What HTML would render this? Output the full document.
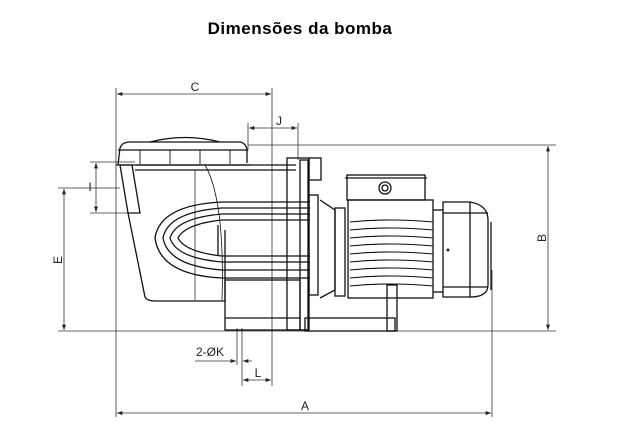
<!DOCTYPE html>
<html><head><meta charset="utf-8"><style>
html,body{margin:0;padding:0;background:#fff;width:635px;height:447px;overflow:hidden}
svg{display:block}
text{font-family:"Liberation Sans",sans-serif;fill:#222}
</style></head><body>
<svg width="635" height="447" viewBox="0 0 635 447">
<defs>
<marker id="a" viewBox="0 0 8 6" refX="8" refY="3" markerWidth="7" markerHeight="5" orient="auto-start-reverse"><path d="M0,0 L8,3 L0,6 z" fill="#222"/></marker>
</defs>
<text x="300" y="34" text-anchor="middle" font-size="17" font-weight="bold" style="fill:#000" letter-spacing="0.5">Dimensões da bomba</text>
<g stroke="#333" stroke-width="0.8" fill="none">
<line x1="116" y1="88" x2="116" y2="417"/>
<line x1="272" y1="88" x2="272" y2="386"/>
<line x1="248" y1="123" x2="248" y2="150"/>
<line x1="298" y1="123" x2="298" y2="160"/>
<line x1="248" y1="145" x2="556" y2="145"/>
<line x1="58" y1="331" x2="556" y2="331"/>
<line x1="58" y1="188" x2="120" y2="188"/>
<line x1="90" y1="162" x2="135" y2="162"/>
<line x1="90" y1="213" x2="140" y2="213"/>
<line x1="492" y1="270" x2="492" y2="417"/>
<line x1="237" y1="328" x2="237" y2="365"/>
<line x1="242" y1="328" x2="242" y2="386"/>
<line x1="117" y1="94" x2="271" y2="94" marker-start="url(#a)" marker-end="url(#a)"/>
<line x1="249" y1="128" x2="297" y2="128" marker-start="url(#a)" marker-end="url(#a)"/>
<line x1="548" y1="146" x2="548" y2="330" marker-start="url(#a)" marker-end="url(#a)"/>
<line x1="64" y1="189" x2="64" y2="330" marker-start="url(#a)" marker-end="url(#a)"/>
<line x1="96" y1="163" x2="96" y2="212" marker-start="url(#a)" marker-end="url(#a)"/>
<line x1="117" y1="413" x2="491" y2="413" marker-start="url(#a)" marker-end="url(#a)"/>
<line x1="243" y1="380" x2="271" y2="380" marker-start="url(#a)" marker-end="url(#a)"/>
<line x1="195" y1="361" x2="236" y2="361" marker-end="url(#a)"/>
<line x1="252" y1="361" x2="243" y2="361" marker-end="url(#a)"/>
</g>
<text x="195" y="91" font-size="12" text-anchor="middle">C</text>
<text x="279" y="125" font-size="12" text-anchor="middle">J</text>
<text x="305" y="410" font-size="12" text-anchor="middle">A</text>
<text x="258" y="377" font-size="12" text-anchor="middle">L</text>
<text x="196" y="356" font-size="12">2-ØK</text>
<text x="90" y="191" font-size="12" text-anchor="middle">I</text>
<text transform="translate(62,260) rotate(-90)" font-size="12" text-anchor="middle">E</text>
<text transform="translate(546,238) rotate(-90)" font-size="12" text-anchor="middle">B</text>
<g stroke="#111" stroke-width="1.3" fill="none">
<path d="M118,165 L120,148 Q122,142 130,142 L240,142 Q246,143 247,150 L247,163"/>
<line x1="118" y1="150" x2="248" y2="150"/>
<line x1="116" y1="165" x2="250" y2="165"/>
<path d="M150,142 Q185,133 220,142"/>
<g stroke-width="0.9"><line x1="140" y1="150" x2="140" y2="164"/><line x1="170" y1="150" x2="170" y2="164"/><line x1="200" y1="150" x2="200" y2="164"/><line x1="230" y1="150" x2="230" y2="164"/></g>
<path d="M120,165 L132,165 L140,213 L128,213 Z"/>
<path d="M128,213 L145,297 Q147,301 155,301 L225,301 L225,230"/>
<line x1="136" y1="165" x2="296" y2="165"/>
<line x1="135" y1="170" x2="296" y2="170"/>
<path d="M205,165 Q225,200 222,300" stroke-width="0.8"/>
<line x1="195" y1="170" x2="195" y2="300" stroke-width="0.7"/>
<path d="M310,202 L222,202 Q160,205 155,238 Q160,275 222,278 L310,278"/>
<path d="M310,208 L222,208 Q168,212 163,238 Q168,266 222,270 L310,270"/>
<path d="M310,214 L222,214 Q176,218 170,238 Q176,258 222,262 L310,262"/>
<path d="M310,220 L222,220 Q185,224 178,238 Q185,252 222,256 L310,256"/>
<line x1="218" y1="225" x2="218" y2="255"/>
<rect x="225" y="280" width="75" height="50"/>
<line x1="225" y1="318" x2="300" y2="318"/>
<rect x="287" y="158" width="22" height="172"/>
<rect x="309" y="158" width="12" height="22"/>
<rect x="300" y="160" width="8" height="170"/>
<rect x="309" y="195" width="9" height="100"/>
<path d="M320,200 L335,210 L335,290 L320,298"/>
<rect x="335" y="208" width="10" height="88"/>
<rect x="305" y="318" width="90" height="13"/>
<rect x="387" y="285" width="10" height="46"/>
<rect x="347" y="175" width="78" height="25"/>
<line x1="345" y1="178" x2="427" y2="178"/>
<circle cx="385" cy="188" r="6"/><circle cx="385" cy="188" r="3"/>
<rect x="348" y="200" width="85" height="98"/>
<g stroke-width="1.1">
<path d="M350,222 Q390,218 433,222"/><path d="M350,230 Q390,226 433,230"/>
<path d="M350,238 Q390,234 433,238"/><path d="M350,246 Q390,242 433,246"/>
<path d="M350,254 Q390,250 433,254"/><path d="M350,262 Q390,258 433,262"/>
<path d="M350,270 Q390,266 433,270"/><path d="M350,278 Q390,274 433,278"/>
<path d="M350,286 Q390,282 433,286"/>
</g>
<path d="M443,202 L470,202 Q488,205 488,220 L488,285 Q488,297 470,297 L443,297 Z"/>
<line x1="433" y1="210" x2="443" y2="210"/><line x1="433" y1="292" x2="443" y2="292"/>
<line x1="470" y1="202" x2="470" y2="297"/>
<line x1="491" y1="222" x2="491" y2="290"/>
<line x1="443" y1="213" x2="488" y2="213"/>
<line x1="443" y1="287" x2="488" y2="287"/>
</g>
<circle cx="448" cy="250" r="1.5" fill="#222"/>
</svg>
</body></html>
